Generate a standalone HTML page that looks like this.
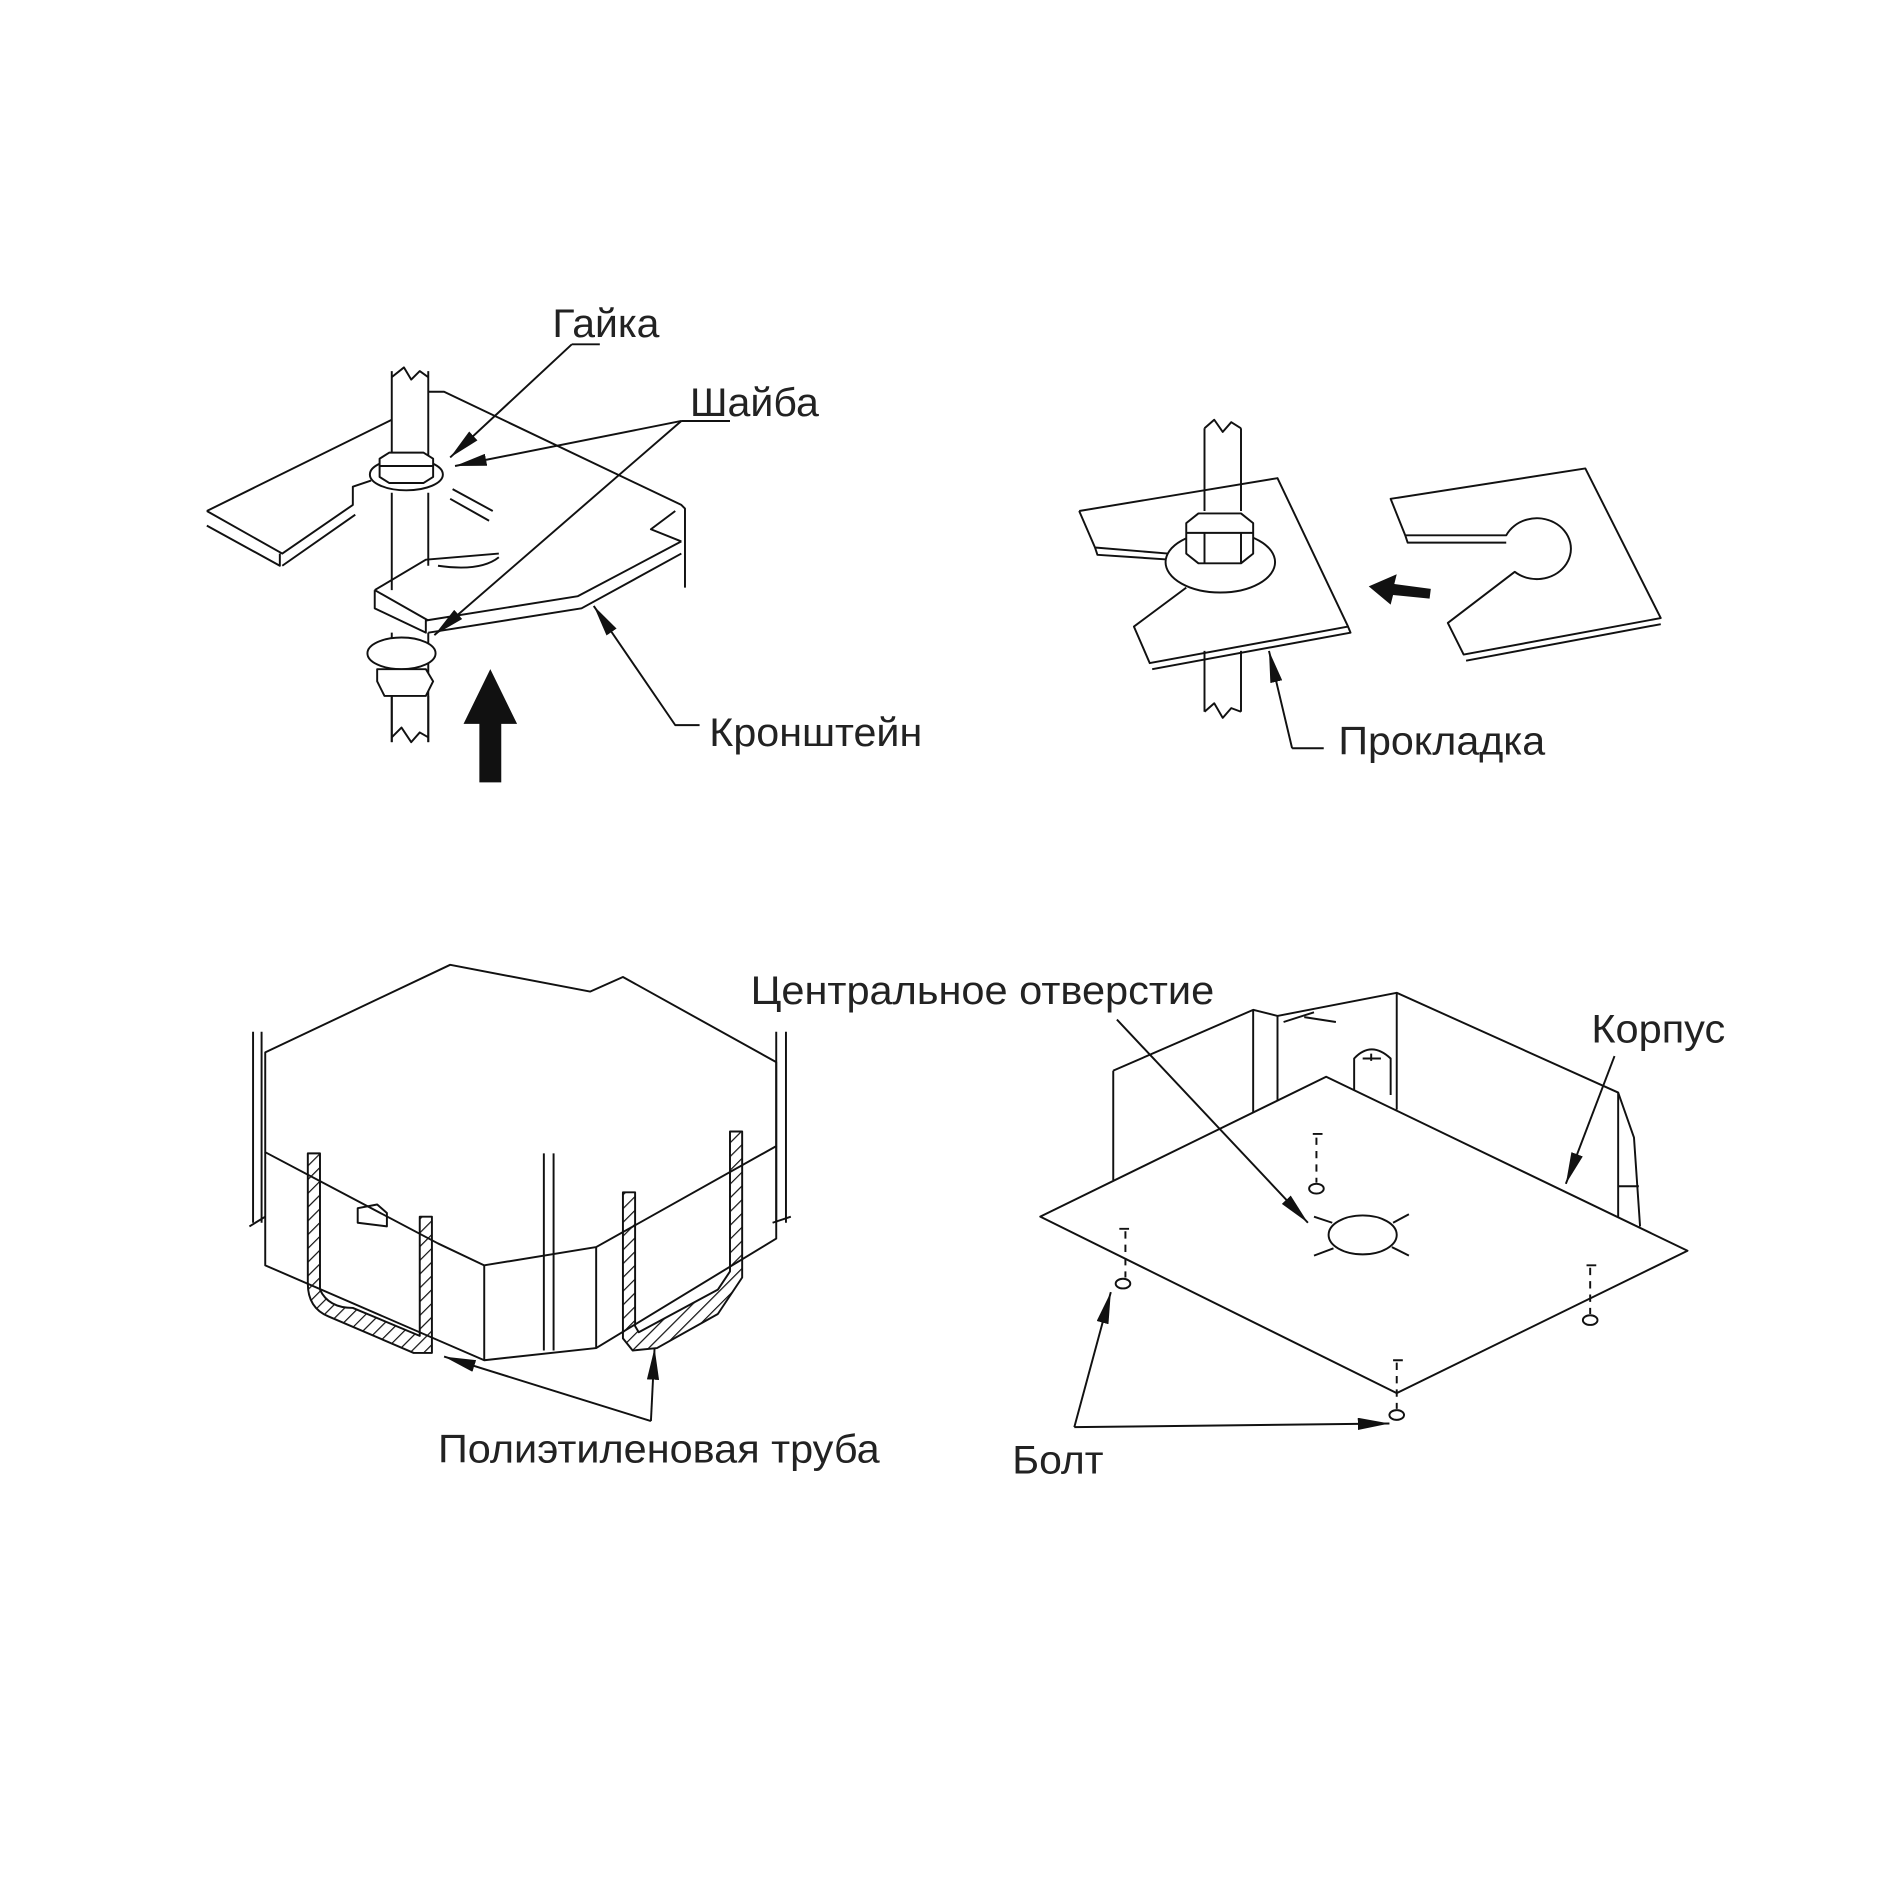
<!DOCTYPE html>
<html><head><meta charset="utf-8"><style>html,body{margin:0;padding:0;background:#fff}svg{display:block}</style></head><body>
<svg width="1898" height="1898" viewBox="0 0 1560 1560" xmlns="http://www.w3.org/2000/svg">
<defs>
<marker id="ah" viewBox="0 0 10 10" refX="10" refY="5" markerWidth="26" markerHeight="10" markerUnits="userSpaceOnUse" orient="auto" preserveAspectRatio="none"><path d="M0,0 L10,5 L0,10 z" fill="#111"/></marker>
<pattern id="hatch" width="8" height="8" patternUnits="userSpaceOnUse" patternTransform="rotate(45)"><line x1="0" y1="0" x2="0" y2="8" stroke="#111" stroke-width="2"/></pattern>
</defs>
<g fill="none" stroke="#111" stroke-width="1.6" stroke-linejoin="round">
<!-- TOP LEFT -->
<path d="M170,420 L322,345 M352,322 L365,322 L560,415 L563,418 L563,483 M555,420 L535,435 L560,445"/>
<path d="M170,420 L232,455 L290,415 L290,400 L305,395 M170,432 L230,465 L230,455 M232,465 L292,423"/>
<path d="M372,402 L405,420 M370,410 L402,428"/>
<path d="M308,485 L350,460 L410,455 M308,485 L308,500 L350,520 L350,510 L475,490 L560,445 M352,520 L478,500 L560,455 M308,485 L352,510 M360,465 Q395,470 410,458"/>
<path d="M322,305 L322,375 M352,305 L352,375 M322,405 L322,485 M352,405 L352,465 M322,520 L322,610 M352,520 L352,610"/>
<path d="M322,310 L332,302 L338,312 L345,305 L352,310 M322,606 L330,598 L338,610 L345,602 L352,606"/>
<ellipse cx="334" cy="390" rx="30" ry="13" fill="#fff"/>
<path d="M312,377 L320,372 L348,372 L356,377 L356,392 L348,397 L320,397 L312,392 Z M312,383 L356,383" fill="#fff"/>
<ellipse cx="330" cy="537" rx="28" ry="13" fill="#fff"/>
<path d="M310,550 L350,550 L356,560 L350,572 L316,572 L310,560 Z" fill="#fff"/>
<path d="M322,572 L322,610 M352,572 L352,610"/>
<path d="M470,283 L493,283 M470,283 L370,376" marker-end="url(#ah)"/>
<path d="M560,346 L600,346 M560,346 L374,383" marker-end="url(#ah)"/>
<path d="M560,346 L357,522" marker-end="url(#ah)"/>
<path d="M575,596 L555,596 L488,498" marker-end="url(#ah)"/>
<!-- TOP RIGHT -->
<path d="M887,420 L1050,393 L1108,515 L945,545 L932,515 L975,483 M887,420 L900,450 L960,455 M947,550 L1110,520 L1108,515 M900,450 L902,456 L962,460"/>
<path d="M990,352 L990,420 M1020,352 L1020,420 M990,535 L990,585 M1020,535 L1020,585 M990,352 L998,345 L1005,355 L1012,347 L1020,352 M990,585 L998,578 L1005,590 L1012,582 L1020,585"/>
<ellipse cx="1003" cy="462" rx="45" ry="25" fill="#fff"/>
<path d="M975,430 L985,422 L1020,422 L1030,430 L1030,455 L1020,463 L985,463 L975,455 Z M975,438 L1030,438 M990,438 L990,463 M1020,438 L1020,463" fill="#fff"/>
<path d="M1143,410 L1303,385 L1365,508 L1203,538 L1190,512 L1245,470 A28,25 0 1,0 1238,440 L1155,440 Z M1205,543 L1365,513 M1155,440 L1157,446 L1238,446"/>
<path d="M1062,615 L1088,615 M1062,615 L1043,535" marker-end="url(#ah)"/>
<!-- BOTTOM LEFT -->
<path d="M218,865 L370,793 L485,815 L512,803 L638,873 L638,942 L490,1025 L398,1040 L360,1022 L218,947 Z"/>
<path d="M218,947 L218,1040 L398,1118 L490,1108 L638,1018 L638,942 M398,1040 L398,1118 M490,1025 L490,1108"/>
<path d="M208,848 L208,1005 M215,848 L215,1005 M638,848 L638,1005 M646,848 L646,1005 M447,948 L447,1110 M455,948 L455,1110"/>
<path d="M205,1008 L218,1000 M635,1005 L650,1000"/>
<path d="M294,993 L310,990 L318,997 L318,1008 L294,1005 Z"/>
<path d="M253,948 L263,948 L263,1060 Q270,1075 290,1075 L345,1098 L345,1000 L355,1000 L355,1112 L340,1112 L270,1082 Q253,1075 253,1055 Z" fill="url(#hatch)"/>
<path d="M512,980 L522,980 L522,1090 L525,1095 L590,1060 L600,1045 L600,930 L610,930 L610,1050 L590,1080 L540,1108 L520,1110 L512,1100 Z" fill="url(#hatch)"/>
<path d="M535,1168 L365,1115" marker-end="url(#ah)"/>
<path d="M535,1168 L538,1108" marker-end="url(#ah)"/>
<!-- BOTTOM RIGHT -->
<path d="M915,925 L915,970 M915,880 L1030,830 L1050,835 L1148,816 L1330,898 L1343,935 L1348,1008 M1030,830 L1030,935 M1050,835 L1050,905 M1148,816 L1148,912 M915,880 L915,960"/>
<path d="M1330,898 L1330,1005 M1113,908 L1113,870 Q1127,855 1143,870 L1143,900 M1120,870 L1135,870 M1127,866 L1127,872 M1330,975 L1347,975"/>
<path d="M1055,840 L1080,832 M1072,836 L1098,840"/>
<path d="M855,1000 L1090,885 L1387,1028 L1148,1145 Z" fill="#fff"/>
<ellipse cx="1120" cy="1015" rx="28" ry="16" fill="#fff"/>
<path d="M1080,1000 L1095,1005 M1145,1005 L1158,998 M1080,1032 L1096,1026 M1144,1025 L1158,1032"/>
<path d="M925,1012 L925,1050 M1082,935 L1082,972 M1148,1120 L1148,1158 M1307,1042 L1307,1080" stroke-dasharray="6,5"/>
<ellipse cx="923" cy="1055" rx="6" ry="4"/><ellipse cx="1082" cy="977" rx="6" ry="4"/><ellipse cx="1148" cy="1163" rx="6" ry="4"/><ellipse cx="1307" cy="1085" rx="6" ry="4"/>
<path d="M920,1010 h8 M1079,932 h8 M1145,1118 h8 M1304,1040 h8"/>
<path d="M918,838 L1075,1005" marker-end="url(#ah)"/>
<path d="M1327,868 L1287,973" marker-end="url(#ah)"/>
<path d="M883,1173 L913,1062" marker-end="url(#ah)"/>
<path d="M883,1173 L1142,1170" marker-end="url(#ah)"/>
</g>
<path d="M394,643 L394,595 L381,595 L403,550 L425,595 L412,595 L412,643 Z" fill="#111"/>
<path d="M1125,482 L1148,472 L1146,480 L1176,484 L1175,492 L1145,489 L1143,497 Z" fill="#111"/>
<g font-family="'Liberation Sans', sans-serif" font-size="33" fill="#222">
<text x="454" y="277" textLength="88" lengthAdjust="spacingAndGlyphs">Гайка</text>
<text x="567" y="342" textLength="106" lengthAdjust="spacingAndGlyphs">Шайба</text>
<text x="583" y="613" textLength="175" lengthAdjust="spacingAndGlyphs">Кронштейн</text>
<text x="1100" y="620" textLength="170" lengthAdjust="spacingAndGlyphs">Прокладка</text>
<text x="617" y="825" textLength="381" lengthAdjust="spacingAndGlyphs">Центральное отверстие</text>
<text x="1308" y="857" textLength="110" lengthAdjust="spacingAndGlyphs">Корпус</text>
<text x="360" y="1202" textLength="363" lengthAdjust="spacingAndGlyphs">Полиэтиленовая труба</text>
<text x="832" y="1211" textLength="75" lengthAdjust="spacingAndGlyphs">Болт</text>
</g>
</svg>
</body></html>
